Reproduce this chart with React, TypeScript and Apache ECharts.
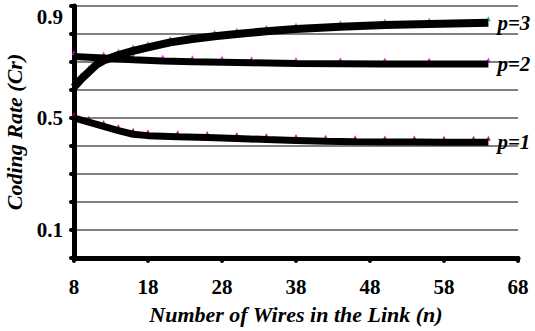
import React, { useEffect, useRef } from "react";
import * as echarts from "echarts";

// Number of wires n (x) and coding rate (y)
const p1N = [8, 10, 12, 14, 16, 18, 22, 26, 30, 34, 38, 42, 46, 50, 54, 58, 62, 64];
const p1V = [0.5, 0.485, 0.47, 0.455, 0.442, 0.437, 0.433, 0.43, 0.427, 0.423, 0.42, 0.417, 0.415, 0.414, 0.414, 0.413, 0.413, 0.413];

const p2N = [8, 12, 16, 20, 24, 28, 32, 38, 44, 50, 56, 64];
const p2V = [0.72, 0.714, 0.708, 0.704, 0.701, 0.699, 0.697, 0.695, 0.694, 0.693, 0.693, 0.693];

const p3N = [8, 9, 10, 11, 12, 14, 16, 18, 21, 24, 27, 30, 34, 38, 44, 50, 56, 64];
const p3V = [0.61, 0.64, 0.665, 0.69, 0.705, 0.725, 0.74, 0.752, 0.77, 0.782, 0.792, 0.8, 0.81, 0.818, 0.826, 0.832, 0.836, 0.84];

const seriesNames = ["p=1", "p=2", "p=3"];
const markerColors = ["#b00000", "#e000e0", "#00a0a0"];
const yLabelsShown = ["0.1", "0.5", "0.9"];

const FONT = "Liberation Serif";

function zip(xs: number[], ys: number[]) {
  return xs.map((x, i) => [x, ys[i]]);
}

export default function App() {
  const ref = useRef<HTMLDivElement>(null);
  useEffect(() => {
    document.body.style.margin = "0";
    const chart = echarts.init(ref.current!, null, { renderer: "svg" });
    const datas = [zip(p1N, p1V), zip(p2N, p2V), zip(p3N, p3V)];
    const series: any[] = [];
    datas.forEach((d, i) => {
      series.push({
        type: "scatter",
        data: d,
        symbol: "triangle",
        symbolSize: 5,
        symbolOffset: [0, -4],
        itemStyle: { color: markerColors[i] },
        z: 1,
        silent: true,
      });
    });
    datas.forEach((d, i) => {
      series.push({
        type: "line",
        name: seriesNames[i],
        data: d,
        showSymbol: false,
        symbol: "none",
        lineStyle: { color: "#000", width: i === 2 ? 8 : 7 },
        z: 3,
        endLabel: {
          show: true,
          formatter: seriesNames[i],
          distance: 9,
          color: "#000",
          fontFamily: FONT,
          fontWeight: "bold",
          fontStyle: "italic",
          fontSize: 21,
        },
      });
    });
    chart.setOption({
      animation: false,
      backgroundColor: "#fff",
      grid: { left: 74, right: 17, top: 6, bottom: 73, outerBoundsMode: "none", containLabel: false },
      xAxis: {
        type: "value",
        min: 8,
        max: 68,
        interval: 10,
        axisLine: { show: true, lineStyle: { color: "#000", width: 5, cap: "round" } },
        axisTick: { show: true, length: 3, lineStyle: { color: "#000", width: 4, cap: "round" } },
        axisLabel: {
          margin: 18,
          color: "#000",
          fontFamily: FONT,
          fontWeight: "bold",
          fontSize: 21,
        },
        splitLine: { show: false },
        name: "Number of Wires in the Link (n)",
        nameLocation: "middle",
        nameGap: 45,
        nameTextStyle: {
          color: "#000",
          fontFamily: FONT,
          fontWeight: "bold",
          fontStyle: "italic",
          fontSize: 22,
        },
      },
      yAxis: {
        type: "value",
        min: 0,
        max: 0.9,
        interval: 0.1,
        axisLine: { show: true, lineStyle: { color: "#000", width: 5, cap: "round" } },
        axisTick: { show: true, length: 3, lineStyle: { color: "#000", width: 4, cap: "round" } },
        axisLabel: {
          margin: 11,
          color: "#000",
          fontFamily: FONT,
          fontWeight: "bold",
          fontSize: 21,
          verticalAlignMaxLabel: "top",
          formatter: (v: number) => {
            const s = v.toFixed(1);
            return yLabelsShown.includes(s) ? s : "";
          },
        },
        splitLine: { show: true, lineStyle: { color: "#808080", width: 2 } },
        name: "Coding Rate (Cr)",
        nameLocation: "middle",
        nameGap: 38,
        nameRotate: 90,
        nameTextStyle: {
          color: "#000",
          fontFamily: FONT,
          fontWeight: "bold",
          fontStyle: "italic",
          fontSize: 22,
        },
      },
      series,
    });
    return () => chart.dispose();
  }, []);
  return <div ref={ref} style={{ width: 535, height: 331 }} />;
}
